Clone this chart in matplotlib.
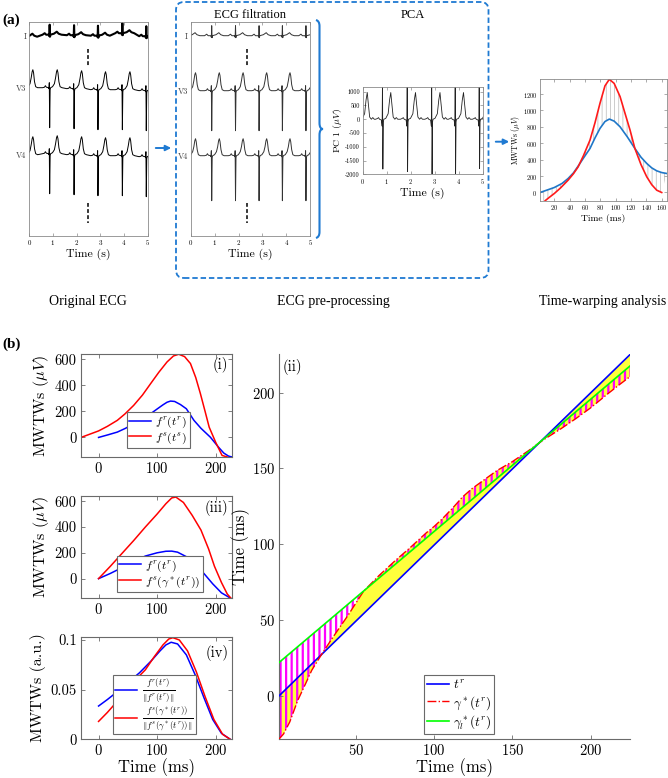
import numpy as np
import matplotlib.pyplot as plt
from matplotlib.patches import FancyBboxPatch, FancyArrowPatch, PathPatch
from matplotlib.path import Path
from matplotlib.ticker import FuncFormatter

plt.rcParams["font.family"] = "serif"
plt.rcParams["font.serif"] = ["cmr10", "DejaVu Serif"]
plt.rcParams["mathtext.fontset"] = "cm"
plt.rcParams["axes.formatter.use_mathtext"] = True
plt.rcParams["axes.unicode_minus"] = False

# ---------------- panel (a): ECG beat templates (time offset s, amplitude) ----------------
ORIG_BEATS = [-0.17, 0.86, 1.89, 2.90, 3.93, 4.94]
FILT_BEATS = [-0.13, 0.87, 1.87, 2.86, 3.84, 4.83]
PCA_BEATS = [-0.14, 0.84, 1.87, 2.89, 3.87, 4.87]

LEAD_I_T = [-0.30, -0.21, -0.15, -0.04, -0.015, 0.0, 0.015, 0.03, 0.18, 0.30, 0.38, 0.50]
LEAD_I_V = [0, 1.5, 0, 0, -1.5, 10, -2, 0, 1, 3, 1, 0]
LEAD_V_T = [-0.30, -0.22, -0.18, -0.14, -0.05, -0.03, -0.015, 0.0, 0.02, 0.04, 0.12,
            0.20, 0.25, 0.29, 0.32, 0.35, 0.39, 0.44, 0.52]
LEAD_V3_V = [0, 0.5, 2, 0.5, 0, -1, 5, -40, -2, 0, 1, 4, 10, 16, 18, 15, 6, 1, 0]
LEAD_V4_V = [0, 0.5, 2, 0.5, 0, -1, 5, -40, -2, 0, 1, 4, 10, 16, 18, 15, 6, 1, 0]
FILT_V4_V = [0, 0.5, 2, 0.5, 0, -1, 5, -45, -2, 0, 1, 4, 9, 15, 17, 14, 6, 1, 0]

ORIG_I_WANDER = [-1, 1, 0.5, 0, 2.5, -0.5]
ORIG_V3_WANDER = [0, 0, -1, -2, -2, -3]
ORIG_V4_WANDER = [0, 1, 0, -1, -1, -2]
FLAT = [0, 0, 0, 0, 0, 0]

PCA_T = [-0.30, -0.22, -0.18, -0.14, -0.06, -0.03, -0.015, 0.0, 0.02, 0.04, 0.12,
         0.22, 0.28, 0.33, 0.37, 0.43, 0.50, 0.56, 0.62]
PCA_V = [0, 30, 60, 0, -30, -250, 1500, -1900, -100, 0, 30, 200, 700, 970, 600, 80,
         0, 60, 0]
PCA_S_DEPTH = [-1800, -1810, -1900, -2050, -2050, -1790]

CHANNELS = ["I", "V3", "V4"]
ORIG_OFFSETS = [0, -52, -119]
FILT_OFFSETS = [0, -55, -120]

# ---------------- panel (a): warping illustration (ms, uV) ----------------
WARP_BLUE_T = [1.3, 10, 20, 30, 38, 45, 51, 58, 66.5, 73, 79.5, 86, 91.7, 98, 105.7,
               115, 125, 133, 140.5, 147, 153.5, 160, 166.5]
WARP_BLUE_V = [0, 28, 61, 110, 171, 240, 321, 420, 537, 665, 781, 865, 895, 870, 801,
               680, 537, 430, 354, 300, 264, 243, 232]
WARP_RED_T = [1.3, 8, 14, 20, 28, 38, 45, 51, 58, 66.5, 73, 79.5, 86, 91.7, 98, 105.7,
              112, 118.7, 125, 133, 140.5, 147, 153.5, 160]
WARP_RED_V = [-200, -100, -55, -12, 55, 151, 230, 312, 450, 639, 850, 1087, 1300, 1380,
              1330, 1169, 970, 761, 537, 340, 191, 95, 28, 0]

# ---------------- panel (b) ----------------
FR_T = [0, 16, 32, 46, 60, 75, 89, 100, 110, 117, 123, 130, 140, 150, 163, 175, 191,
        205, 214, 222, 228]
FR_V = [0, 20, 41, 70, 105, 140, 182, 218, 250, 270, 279, 276, 252, 220, 131, 70, 2,
        -75, -120, -143, -150]
FS_T = [-30, -15, 0, 15, 32, 45, 60, 75, 89, 103, 117, 128, 137, 147, 157, 166, 174,
        182, 189, 200, 211, 220]
FS_V = [0, 25, 50, 85, 131, 180, 246, 325, 413, 500, 579, 625, 638, 620, 567, 460, 336,
        200, 79, -36, -138, -150]

FR3_T = [0, 20, 40, 60, 80, 100, 115, 125, 135, 150, 165, 180, 195, 210, 225]
FR3_V = [0, 40, 85, 135, 175, 200, 212, 213, 205, 170, 110, 40, -40, -110, -150]
FW_T = [0, 20, 40, 60, 80, 100, 115, 125, 132, 145, 160, 175, 188, 198, 210, 220, 226]
FW_V = [0, 95, 195, 295, 400, 500, 580, 625, 632, 590, 490, 376, 230, 96, -30, -120, -150]

NR_T = [0, 15, 30, 50, 70, 90, 105, 115, 124, 135, 150, 165, 180, 195, 210, 225]
NR_V = [0.0335, 0.040, 0.047, 0.057, 0.067, 0.079, 0.089, 0.095, 0.0977, 0.096, 0.085,
        0.065, 0.042, 0.020, 0.006, 0.0]
NS_T = [0, 15, 30, 50, 70, 80, 95, 110, 120, 127, 138, 152, 167, 182, 197, 212, 225]
NS_V = [0.018, 0.027, 0.037, 0.051, 0.064, 0.070, 0.083, 0.095, 0.101, 0.1023, 0.100,
        0.089, 0.068, 0.043, 0.020, 0.005, 0.0]

TR_X = [1, 225]
TR_Y = [0, 225]
GL_X = [1, 225]
GL_Y = [22, 217.5]
GS_X = [1, 4, 8, 13, 18, 22, 28, 35, 45, 55, 65, 75, 85, 95, 100, 105, 112, 118, 124,
        130, 140, 150, 160, 170, 180, 190, 200, 210, 218, 225]
GS_Y = [-28.5, -25, -17, -3, 8, 17, 27, 38, 53, 69, 79.5, 89, 98, 107.5, 111.7, 116.5,
        124, 131, 136.5, 141, 148.5, 154.5, 161.5, 169, 175.5, 182.5, 190, 198.5, 205,
        210.5]

W, H = 668, 778
BLUE_UI = "#1f7ad2"
FRAME_A = "#8a8a8a"
FRAME_B = "#6a6a6a"


def fig_rect(x0, y0, x1, y1):
    return [x0 / W, 1 - y1 / H, (x1 - x0) / W, (y1 - y0) / H]


def trace(beats, knots_t, knots_v, offsets):
    x = np.concatenate([b + np.asarray(knots_t) for b in beats])
    y = np.concatenate([np.asarray(knots_v, float) + o for o in offsets])
    return x, y


def style_small(ax, frame=FRAME_A, size=5):
    for s in ax.spines.values():
        s.set_color(frame)
        s.set_linewidth(0.6)
    ax.tick_params(direction="in", length=2, width=0.5, color=frame, labelsize=size,
                   top=True, right=True, pad=2)


def style_b(ax, box=True):
    for name, s in ax.spines.items():
        s.set_color(FRAME_B)
        s.set_linewidth(0.8)
        if not box and name in ("top", "right"):
            s.set_visible(False)
    ax.tick_params(direction="in", length=3, width=0.6, color=FRAME_B, labelsize=10.5,
                   top=box, right=box, pad=3)


def ecg_axes(fig, rect, beats, leads, offsets, color, lw_first, dash_t):
    ax = fig.add_axes(rect)
    for (kt, kv, wander), off in zip(leads, offsets):
        x, y = trace(beats, kt, kv, wander)
        lw = lw_first if off == 0 else 0.7
        ax.plot(x, y + off, color=color, lw=lw)
    ax.plot([dash_t, dash_t], [-13, -31], color="black", lw=1.1, ls=(0, (2.5, 1.5)))
    ax.plot([dash_t, dash_t], [-167, -187], color="black", lw=1.1, ls=(0, (2.5, 1.5)))
    ax.set_xlim(0, 5)
    ax.set_ylim(-200, 14)
    ax.set_xticks(range(6))
    ax.set_yticks(offsets)
    ax.set_yticklabels(CHANNELS)
    style_small(ax)
    ax.tick_params(axis="y", length=0, labelsize=6, labelcolor="#444444")
    ax.set_xlabel("Time (s)", fontsize=8.5, labelpad=1)
    return ax


def draw_panel_a(fig):
    orig_leads = [(LEAD_I_T, LEAD_I_V, ORIG_I_WANDER), (LEAD_V_T, LEAD_V3_V, ORIG_V3_WANDER),
                  (LEAD_V_T, LEAD_V4_V, ORIG_V4_WANDER)]
    ecg_axes(fig, fig_rect(29.3, 21.7, 147.7, 235.7), ORIG_BEATS, orig_leads, ORIG_OFFSETS,
             "black", 1.5, 2.49)
    filt_leads = [(LEAD_I_T, LEAD_I_V, FLAT), (LEAD_V_T, LEAD_V3_V, FLAT),
                  (LEAD_V_T, FILT_V4_V, FLAT)]
    ax = ecg_axes(fig, fig_rect(191, 21.7, 310, 235.7), FILT_BEATS, filt_leads,
                  FILT_OFFSETS, "#333333", 0.7, 2.37)
    ax.set_title("ECG filtration", fontsize=9, family="Liberation Serif", pad=3)

    # PCA
    ax = fig.add_axes(fig_rect(362.7, 87.3, 482.7, 174.3))
    xs, ys = [], []
    for b, s in zip(PCA_BEATS, PCA_S_DEPTH):
        v = list(PCA_V)
        v[PCA_T.index(0.0)] = s
        xs.append(b + np.asarray(PCA_T))
        ys.append(np.asarray(v, float))
    ax.plot(np.concatenate(xs), np.concatenate(ys), color="#222222", lw=0.6)
    ax.set_xlim(0, 5)
    ax.set_ylim(-2000, 1160)
    ax.set_xticks(range(6))
    ax.set_yticks(range(-2000, 1001, 500))
    ax.yaxis.set_major_formatter(FuncFormatter(lambda v, p: "%g" % v))
    style_small(ax, size=4.5)
    ax.set_xlabel("Time (s)", fontsize=8.5, labelpad=1)
    ax.set_ylabel(r"PC 1 ($\mu V$)", fontsize=7, labelpad=1)
    fig.text(413 / W, 1 - 15 / H, "PCA", fontsize=9, family="Liberation Serif",
             ha="center", va="center")

    # warping illustration
    ax = fig.add_axes(fig_rect(540, 79.3, 666.7, 200.7))
    poly_x = np.r_[WARP_RED_T, WARP_BLUE_T[::-1]]
    poly_y = np.r_[WARP_RED_V, WARP_BLUE_V[::-1]]
    with plt.rc_context({"hatch.linewidth": 0.5}):
        patches = ax.fill(poly_x, poly_y, facecolor="none", edgecolor="#b8b8b8", lw=0,
                          hatch="||||")
    for p in patches:
        if hasattr(p, "set_hatch_linewidth"):
            p.set_hatch_linewidth(0.5)
    ax.plot(WARP_BLUE_T, WARP_BLUE_V, color="#1f77c8", lw=1.2)
    ax.plot(WARP_RED_T, WARP_RED_V, color="#ff1a1a", lw=1.2)
    ax.set_xlim(1.3, 166.5)
    ax.set_ylim(-100, 1380)
    ax.set_xticks(range(20, 161, 20))
    ax.set_yticks(range(0, 1201, 200))
    style_small(ax, size=4.5)
    ax.set_xlabel("Time (ms)", fontsize=7, labelpad=1)
    ax.set_ylabel(r"MWTWs ($\mu V$)", fontsize=5.5, labelpad=1)

    # frame, brace, arrows
    box = FancyBboxPatch((1.76, (H - 278) / 100), 3.125, 2.76,
                         boxstyle="round,pad=0,rounding_size=0.08",
                         transform=fig.dpi_scale_trans, fill=False, edgecolor=BLUE_UI,
                         lw=1.3, ls=(0, (3, 1.6)))
    fig.patches.append(box)
    yt, yb = (H - 20) / 100, (H - 238) / 100
    ym = (yt + yb) / 2
    verts = [(3.16, yt), (3.195, yt - 0.01), (3.195, yt - 0.06),
             (3.195, ym + 0.06), (3.195, ym), (3.23, ym),
             (3.195, ym), (3.195, ym - 0.06),
             (3.195, yb + 0.06), (3.195, yb + 0.01), (3.16, yb)]
    codes = [Path.MOVETO, Path.CURVE3, Path.CURVE3, Path.LINETO, Path.CURVE3, Path.CURVE3,
             Path.CURVE3, Path.CURVE3, Path.LINETO, Path.CURVE3, Path.CURVE3]
    brace = PathPatch(Path(verts, codes), transform=fig.dpi_scale_trans, fill=False,
                      edgecolor=BLUE_UI, lw=1.5)
    fig.patches.append(brace)
    for x0, x1, y in [(153, 174, 148), (493, 512, 141.7)]:
        arr = FancyArrowPatch((x0 / W, 1 - y / H), (x1 / W, 1 - y / H),
                              transform=fig.transFigure, arrowstyle="-|>",
                              mutation_scale=8, color=BLUE_UI, lw=1.4)
        fig.patches.append(arr)

    for x, label in [(88, "Original ECG"), (333, "ECG pre-processing"),
                     (603, "Time-warping analysis")]:
        fig.text(x / W, 1 - 302 / H, label, fontsize=10, family="Liberation Serif",
                 ha="center", va="center")
    fig.text(2 / W, 1 - 20 / H, "(a)", fontsize=11, family="Liberation Serif",
             weight="bold", ha="left", va="center")
    fig.text(2 / W, 1 - 344 / H, "(b)", fontsize=11, family="Liberation Serif",
             weight="bold", ha="left", va="center")


def signal_axes(fig, rect, curves, ylim, yticks, labels, legend_xy, tag, tag_y,
                ylabel, last=False):
    ax = fig.add_axes(rect)
    for (t, v), color, lab in zip(curves, ["#0000ff", "#ff0000"], labels):
        ax.plot(t, v, color=color, lw=1.1, label=lab)
    ax.set_xlim(-30, 228)
    ax.set_ylim(*ylim)
    ax.set_xticks([0, 100, 200])
    ax.set_yticks(yticks)
    ax.yaxis.set_major_formatter(FuncFormatter(lambda v, p: "%g" % v))
    style_b(ax)
    ax.set_ylabel(ylabel, fontsize=11.5, labelpad=3)
    leg = ax.legend(loc="lower left", bbox_to_anchor=legend_xy, borderaxespad=0,
                    fontsize=9 if last else 8.5, handlelength=1.8, handletextpad=0.4,
                    borderpad=0.15 if last else 0.2, labelspacing=0.0 if last else 0.05,
                    fancybox=False, framealpha=1)
    leg.get_frame().set_edgecolor(FRAME_B)
    leg.get_frame().set_linewidth(0.8)
    ax.text(0.975, tag_y, tag, transform=ax.transAxes, ha="right", va="center",
            fontsize=10.5)
    if last:
        ax.set_xlabel("Time (ms)", fontsize=12, labelpad=0)
    return ax


def draw_panel_b(fig):
    signal_axes(fig, fig_rect(81, 354, 232, 457), [(FR_T, FR_V), (FS_T, FS_V)],
                (-150, 640), [0, 200, 400, 600], [r"$f^r(t^r)$", r"$f^s(t^s)$"],
                (0.305, 0.087), "(i)", 0.893, r"MWTWs ($\mu V$)")
    signal_axes(fig, fig_rect(81, 496, 232, 598), [(FR3_T, FR3_V), (FW_T, FW_V)],
                (-150, 640), [0, 200, 400, 600],
                [r"$f^r(t^r)$", r"$f^s(\gamma^*(t^r))$"],
                (0.238, 0.06), "(iii)", 0.882, r"MWTWs ($\mu V$)")
    signal_axes(fig, fig_rect(81, 636.7, 232, 739.3), [(NR_T, NR_V), (NS_T, NS_V)],
                (0, 0.1033), [0, 0.05, 0.1],
                [r"$\frac{f^r(t^r)}{\Vert f^r(t^r)\Vert}$",
                 r"$\frac{f^s(\gamma^*(t^r))}{\Vert f^s(\gamma^*(t^r))\Vert}$"],
                (0.212, 0.05), "(iv)", 0.841, "MWTWs (a.u.)", last=True)

    ax = fig.add_axes(fig_rect(279.3, 354, 630, 739.3))
    ax.fill(np.r_[GS_X, TR_X[::-1]], np.r_[GS_Y, TR_Y[::-1]], color="#ffff3c", lw=0,
            zorder=1)
    with plt.rc_context({"hatch.linewidth": 1.6}):
        patches = ax.fill(np.r_[GS_X, GL_X[::-1]], np.r_[GS_Y, GL_Y[::-1]],
                          facecolor="none", edgecolor="#ff00ff", lw=0, hatch="|||",
                          zorder=1.5)
    for p in patches:
        if hasattr(p, "set_hatch_linewidth"):
            p.set_hatch_linewidth(1.6)
    ax.plot(TR_X, TR_Y, color="#0000ff", lw=1.2, label=r"$t^r$", zorder=3)
    ax.plot(GS_X, GS_Y, color="#ff0000", lw=1.0, ls="-.", label=r"$\gamma^*(t^r)$",
            zorder=3)
    ax.plot(GL_X, GL_Y, color="#00ff00", lw=1.2, label=r"$\gamma_l^*(t^r)$", zorder=3)
    ax.set_xlim(1.3, 225)
    ax.set_ylim(-28.5, 225.4)
    ax.set_xticks([50, 100, 150, 200])
    ax.set_yticks([0, 50, 100, 150, 200])
    style_b(ax, box=False)
    ax.set_xlabel("Time (ms)", fontsize=12, labelpad=0)
    ax.set_ylabel("Time (ms)", fontsize=12, labelpad=1)
    leg = ax.legend(loc="lower left", bbox_to_anchor=(0.413, 0.014), borderaxespad=0,
                    fontsize=9.5, handlelength=1.7, handletextpad=0.3, borderpad=0.2,
                    labelspacing=0.15, fancybox=False, framealpha=1)
    leg.get_frame().set_edgecolor(FRAME_B)
    leg.get_frame().set_linewidth(0.8)
    ax.text(0.01, 0.966, "(ii)", transform=ax.transAxes, ha="left", va="center",
            fontsize=10.5)


fig = plt.figure(figsize=(W / 100, H / 100), dpi=100)
draw_panel_a(fig)
draw_panel_b(fig)
fig.savefig("out.png", dpi=100)
